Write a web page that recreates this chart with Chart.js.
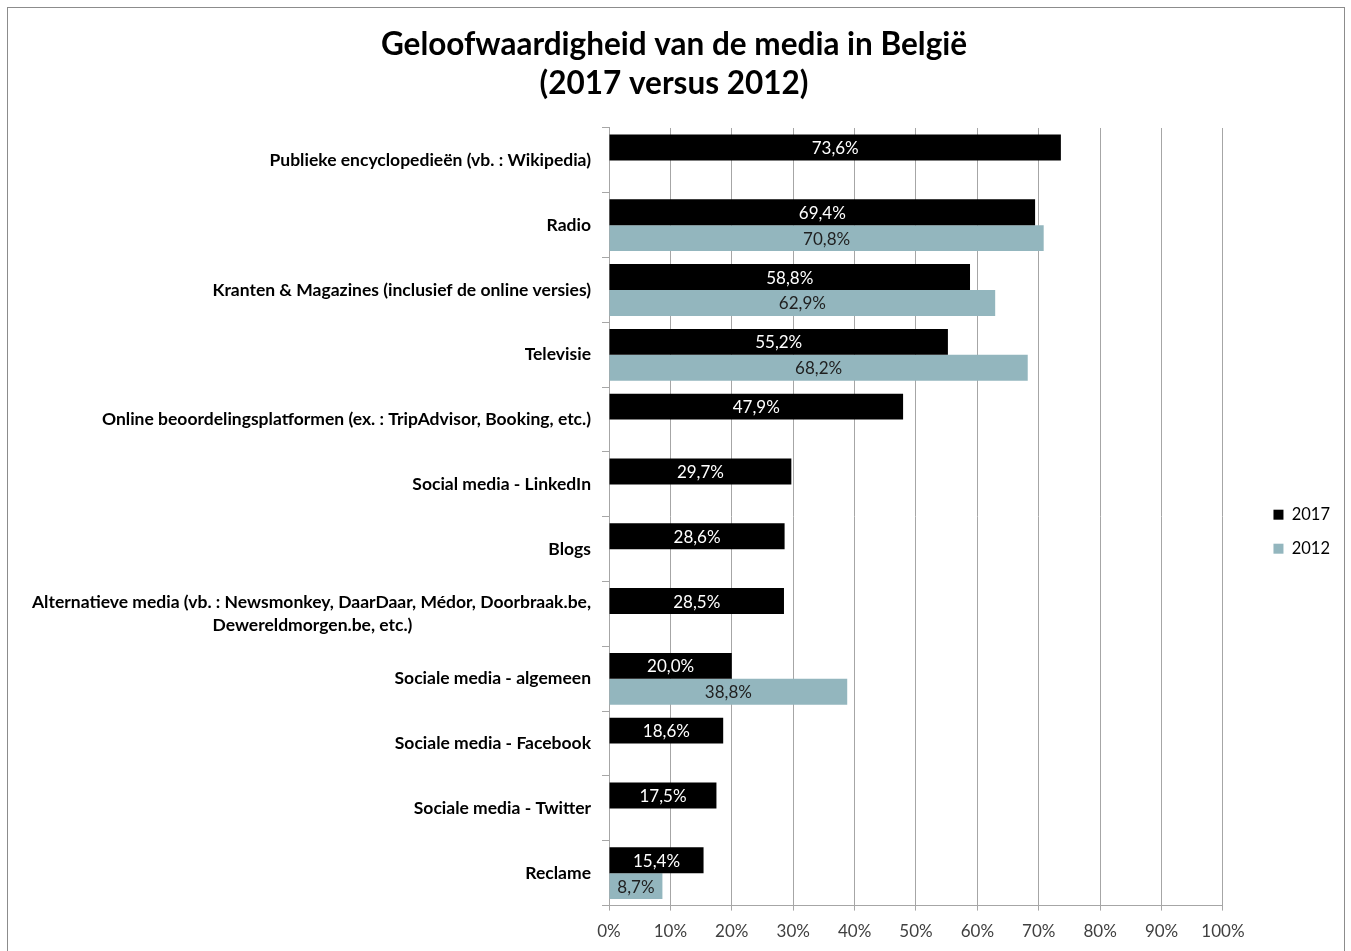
<!DOCTYPE html>
<html>
<head>
<meta charset="utf-8">
<title>Geloofwaardigheid van de media in België</title>
<script src="https://cdn.jsdelivr.net/npm/chart.js@4.4.0/dist/chart.umd.min.js"></script>
<style>
  html, body { margin: 0; padding: 0; background: #fff; }
  #frame {
    position: absolute; left: 7px; top: 7px;
    width: 1336px; height: 954px;
    border: 1px solid #8c8c8c;
  }
  #wrap { position: absolute; left: 0; top: 0; width: 1336px; height: 945px; }
</style>
</head>
<body>
<div id="frame"><div id="wrap"><canvas id="chart"></canvas></div></div>
<script>
/* ---- data ---- */
const categories = [
  "Publieke encyclopedieën (vb. : Wikipedia)",
  "Radio",
  "Kranten & Magazines (inclusief de online versies)",
  "Televisie",
  "Online beoordelingsplatformen (ex. : TripAdvisor, Booking, etc.)",
  "Social media - LinkedIn",
  "Blogs",
  ["Alternatieve media (vb. : Newsmonkey, DaarDaar, Médor, Doorbraak.be,",
   "Dewereldmorgen.be, etc.)" + " ".repeat(42)],
  "Sociale media - algemeen",
  "Sociale media - Facebook",
  "Sociale media - Twitter",
  "Reclame"
];
const values2017 = [73.6, 69.4, 58.8, 55.2, 47.9, 29.7, 28.6, 28.5, 20.0, 18.6, 17.5, 15.4];
const values2012 = [null, 70.8, 62.9, 68.2, null, null, null, null, 38.8, null, null, 8.7];
const xTicks = [0, 10, 20, 30, 40, 50, 60, 70, 80, 90, 100];

const FONT = "Lato, 'Open Sans', sans-serif";
const GRID = "#a6a6a6";

// waarde-labels midden in de balken
const barLabels = {
  id: "barLabels",
  afterDatasetsDraw(chart) {
    const ctx = chart.ctx;
    ctx.save();
    ctx.font = "17px " + FONT;
    ctx.textAlign = "center";
    ctx.textBaseline = "middle";
    chart.data.datasets.forEach((ds, i) => {
      const meta = chart.getDatasetMeta(i);
      meta.data.forEach((bar, j) => {
        const v = ds.data[j];
        if (v === null || v === undefined) return;
        const txt = v.toFixed(1).replace(".", ",") + "%";
        ctx.fillStyle = ds.labelColor;
        ctx.fillText(txt, (bar.x + bar.base) / 2, bar.y + 1);
      });
    });
    ctx.restore();
  }
};

new Chart(document.getElementById("chart"), {
  type: "bar",
  data: {
    labels: categories,
    datasets: [
      {
        label: "2017",
        data: values2017,
        yAxisID: "y",
        backgroundColor: "#000000",
        labelColor: "#ffffff",
        categoryPercentage: 0.8,
        barPercentage: 1.0
      },
      {
        label: "2012",
        data: values2012,
        yAxisID: "y",
        backgroundColor: "#93b6be",
        labelColor: "#1f1f1f",
        categoryPercentage: 0.8,
        barPercentage: 1.0
      }
    ]
  },
  options: {
    indexAxis: "y",
    responsive: true,
    maintainAspectRatio: false,
    animation: false,
    layout: { padding: { left: 0, right: 4, top: 0, bottom: 0 } },
    scales: {
      x: {
        min: 0, max: 100,
        afterBuildTicks: (axis) => { axis.ticks = xTicks.map(v => ({ value: v })); },
        ticks: {
          callback: (v) => v + "%",
          color: "#404040",
          font: { family: FONT, size: 17 },
          padding: 11
        },
        grid: { color: GRID, tickLength: 5 },
        border: { color: GRID }
      },
      y: {
        afterFit: (axis) => { axis.width = 601; },
        ticks: {
          color: "#000000",
          font: { family: FONT, size: 17.5, weight: "bold", lineHeight: 1.32 },
          padding: 11
        },
        grid: { drawOnChartArea: false, color: GRID, tickLength: 7 },
        border: { color: GRID }
      },
      // lege ruimte tussen grafiek en legende
      y2: {
        type: "category",
        position: "right",
        afterFit: (axis) => { axis.width = 33; },
        ticks: { display: false },
        grid: { display: false },
        border: { display: false }
      }
    },
    plugins: {
      title: {
        display: true,
        text: ["Geloofwaardigheid van de media in België", "(2017 versus 2012)"],
        color: "#000000",
        font: { family: FONT, size: 31.5, weight: "bold", lineHeight: 1.238 },
        padding: { top: 17.5, bottom: 24.5 }
      },
      legend: {
        position: "right",
        title: { display: true, text: "", padding: { top: 0, bottom: 88 } },
        labels: {
          boxWidth: 10,
          boxHeight: 10,
          padding: 17.5,
          color: "#000000",
          font: { family: FONT, size: 16.5 }
        }
      },
      tooltip: { enabled: false }
    }
  },
  plugins: [barLabels]
});
</script>
</body>
</html>
